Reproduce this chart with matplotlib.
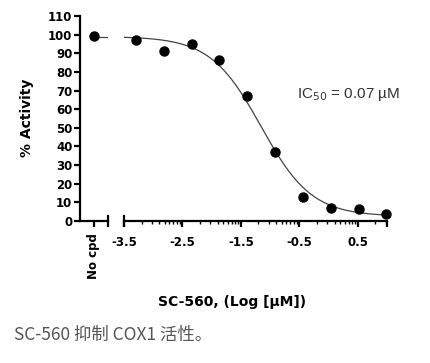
import numpy as np
import matplotlib.pyplot as plt

# data
log_conc = [0.99, 0.52, 0.04, -0.44, -0.91, -1.39, -1.87, -2.34, -2.82, -3.29]
activity = [3.6, 6.3, 7.1, 13.0, 37.2, 67.1, 86.2, 95.0, 91.2, 97.0]
nocpd_activity = [99.5]
xticks = [-3.5, -2.5, -1.5, -0.5, 0.5]
xtick_labels = ['-3.5', '-2.5', '-1.5', '-0.5', '0.5']
yticks = list(range(0, 111, 10))

# 4PL fit params (IC50 = 0.07 uM)
top, bottom, log_ic50, hill = 99.0, 2.5, np.log10(0.07), 1.0

plt.rcParams['font.family'] = ['DejaVu Sans']
fig = plt.figure(figsize=(4.3, 3.63), dpi=100)

lw = 1.6
tfs = 8.5
ax0 = fig.add_axes([80/430, 1 - 221/363, 28/430, 205/363])
ax1 = fig.add_axes([124/430, 1 - 221/363, 263/430, 205/363])

for ax in (ax0, ax1):
    ax.set_ylim(0, 110)
    for s in ('top', 'right'):
        ax.spines[s].set_visible(False)
    ax.spines['bottom'].set_linewidth(lw)
    ax.spines['left'].set_linewidth(lw)
    ax.patch.set_alpha(0)

# no compound segment
ax0.set_xlim(-0.5, 0.5)
ax0.plot([0], nocpd_activity, 'o', color='black', ms=6.5, clip_on=False, zorder=5)
ax0.plot([0, 0.5], [top, top], color='#444444', lw=0.9)
ax0.set_xticks([0])
ax0.set_xticklabels(['No cpd'], rotation=90, fontweight='bold', fontsize=tfs)
ax0.set_yticks(yticks)
ax0.set_yticklabels([str(v) for v in yticks], fontweight='bold', fontsize=tfs)
ax0.tick_params(axis='y', direction='out', length=4, width=lw, pad=1.5)
ax0.tick_params(axis='x', direction='out', length=4, width=lw, pad=5)
ax0.plot([1, 1], [-0.022, 0.022], transform=ax0.transAxes, color='black', lw=lw, clip_on=False)

# main dose-response segment
ax1.spines['left'].set_visible(False)
ax1.set_xlim(-3.5, 1.0)
xs = np.linspace(-3.5, 1.0, 300)
fit = bottom + (top - bottom) / (1 + 10 ** ((xs - log_ic50) * hill))
ax1.plot(xs, fit, color='#444444', lw=0.9)
ax1.plot(log_conc, activity, 'o', color='black', ms=6.5, clip_on=False, zorder=5)
ax1.set_yticks([])
ax1.set_xticks(xticks + [1.0])
ax1.set_xticklabels(xtick_labels + [''], fontweight='bold', fontsize=tfs)
minor = [d + np.log10(k) for d in xticks for k in range(2, 10) if d + np.log10(k) < 1.0]
ax1.set_xticks(minor, minor=True)
ax1.tick_params(axis='x', which='major', direction='out', length=4, width=lw, pad=7)
ax1.tick_params(axis='x', which='minor', direction='out', length=2.5, width=1.0)
ax1.plot([0, 0], [-0.022, 0.022], transform=ax1.transAxes, color='black', lw=lw, clip_on=False)

ax1.text(0.659, 0.617, r'IC$_{50}$ = 0.07 µM', transform=ax1.transAxes, fontsize=11,
         color='#333333', family=['Liberation Sans', 'DejaVu Sans'], va='center')

fig.text(27/430, 1 - 118/363, '% Activity', rotation=90, fontweight='bold', fontsize=10,
         ha='center', va='center')
fig.text(232/430, 1 - 302/363, 'SC-560, (Log [µM])', fontweight='bold', fontsize=10,
         ha='center', va='center')
fig.text(14/430, 1 - 335/363, 'SC-560 抑制 COX1 活性。', fontsize=12.5, color='#555555',
         family=['Noto Sans CJK SC', 'DejaVu Sans'], ha='left', va='center')

fig.savefig('out.png', dpi=100)
